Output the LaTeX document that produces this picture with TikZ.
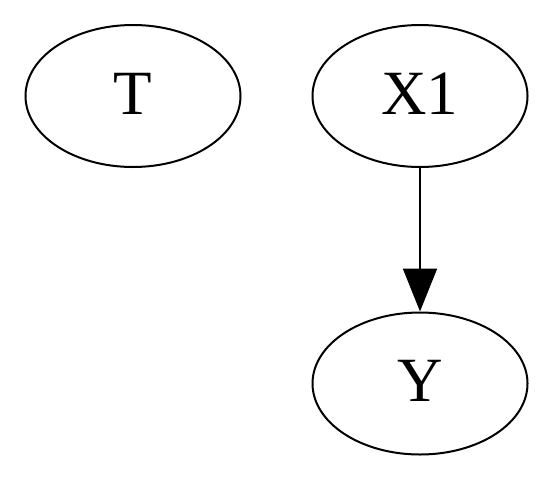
\documentclass[tikz,border=0pt]{standalone}
\usepackage{fontspec}
\setmainfont{Liberation Serif}
\usetikzlibrary{shapes.geometric,arrows.meta}
\newcommand{\uplab}[1]{\raisebox{5pt}{#1}}
\begin{document}
\begin{tikzpicture}[x=1pt,y=-1pt,
  gnode/.style={ellipse,draw=black,line width=2pt,minimum width=215pt,minimum height=142pt,inner sep=0pt,font=\fontsize{63}{66}\selectfont},
  gedge/.style={line width=2pt,-{Triangle[length=43pt,width=34pt]}}]
\useasboundingbox (0,0) rectangle (553,482);
\node[gnode] (T) at (133,96) {\uplab{T}};
\node[gnode] (X1) at (420,96) {\uplab{X1}};
\node[gnode] (Y) at (420,383.5) {\uplab{Y}};
\draw[gedge] (X1) -- (Y);
\end{tikzpicture}
\end{document}
